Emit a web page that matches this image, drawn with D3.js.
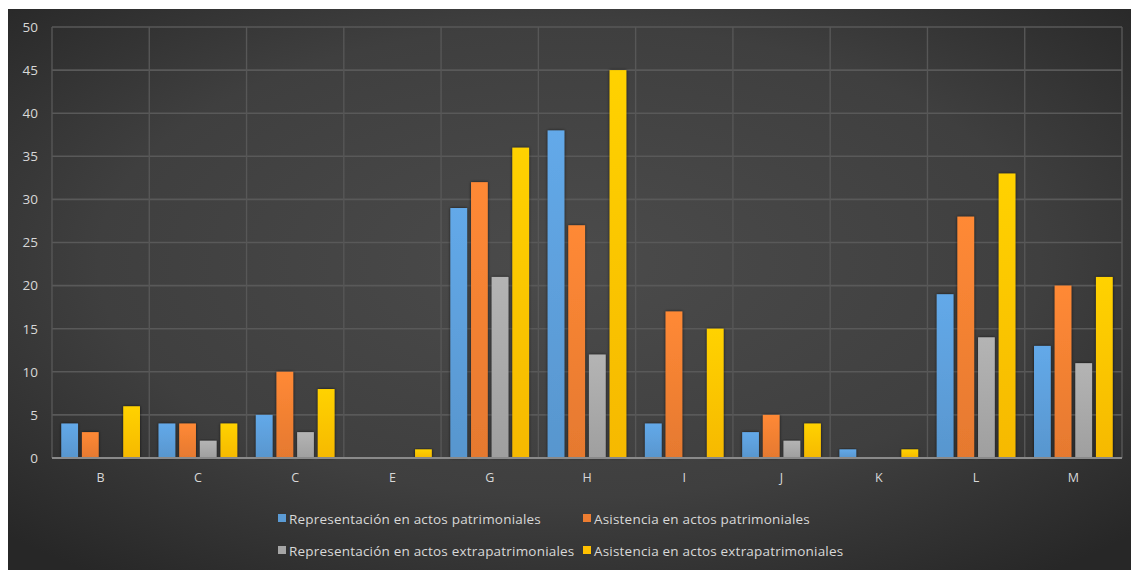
<!DOCTYPE html>
<html>
<head>
<meta charset="utf-8">
<script src="https://cdn.jsdelivr.net/npm/d3@7"></script>
<style>
  html, body { margin: 0; padding: 0; background: #ffffff; }
  svg { display: block; }
</style>
</head>
<body>
<svg id="chart" width="1131" height="570"></svg>
<script>
// Category labels along the x axis
const categories = ["B", "C", "C", "E", "G", "H", "I", "J", "K", "L", "M"];

// One array per series, in category order
const representacionPatrimoniales = [4, 4, 5, 0, 29, 38, 4, 3, 1, 19, 13];
const asistenciaPatrimoniales      = [3, 4, 10, 0, 32, 27, 17, 5, 0, 28, 20];
const representacionExtra          = [0, 2, 3, 0, 21, 12, 0, 2, 0, 14, 11];
const asistenciaExtra              = [6, 4, 8, 1, 36, 45, 15, 4, 1, 33, 21];

const seriesNames = [
  "Representación en actos patrimoniales",
  "Asistencia en actos patrimoniales",
  "Representación en actos extrapatrimoniales",
  "Asistencia en actos extrapatrimoniales"
];
const seriesColors = ["#5b9bd5", "#ed7d31", "#a5a5a5", "#ffc000"];
const yTicks = [0, 5, 10, 15, 20, 25, 30, 35, 40, 45, 50];

const seriesValues = [representacionPatrimoniales, asistenciaPatrimoniales, representacionExtra, asistenciaExtra];

const svg = d3.select("#chart");
const W = 1131, H = 570;
const margin = { left: 52, right: 9, top: 27, bottom: 112 };
const plotW = W - margin.left - margin.right;
const plotH = H - margin.top - margin.bottom;

// Backdrop: dark radial gradient filling the chart frame
const defs = svg.append("defs");
const bg = defs.append("radialGradient").attr("id", "bgGrad")
  .attr("cx", "50%").attr("cy", "45%").attr("r", "70%");
bg.append("stop").attr("offset", "0%").attr("stop-color", "#4b4b4b");
bg.append("stop").attr("offset", "60%").attr("stop-color", "#3f3f3f");
bg.append("stop").attr("offset", "100%").attr("stop-color", "#272727");
svg.append("rect").attr("x", 8).attr("y", 9).attr("width", W - 8).attr("height", H - 9)
  .attr("fill", "url(#bgGrad)");

// Vertical shading on bars: lighter toward the top
seriesColors.forEach((c, i) => {
  const g = defs.append("linearGradient").attr("id", "barGrad" + i)
    .attr("x1", 0).attr("y1", 0).attr("x2", 0).attr("y2", 1);
  g.append("stop").attr("offset", "0%").attr("stop-color", d3.color(c).brighter(0.25));
  g.append("stop").attr("offset", "100%").attr("stop-color", d3.color(c).darker(0.1));
});
const shadow = defs.append("filter").attr("id", "barShadow")
  .attr("x", "-30%").attr("y", "-10%").attr("width", "160%").attr("height", "120%");
shadow.append("feDropShadow").attr("dx", 0).attr("dy", 0).attr("stdDeviation", 1.6)
  .attr("flood-color", "#000").attr("flood-opacity", 0.7);

const g = svg.append("g").attr("transform", `translate(${margin.left},${margin.top})`);

const x0 = d3.scaleBand().domain(d3.range(categories.length)).range([0, plotW]).paddingInner(0).paddingOuter(0);
const x1 = d3.scaleBand().domain(d3.range(seriesNames.length)).range([0, x0.bandwidth()])
  .paddingInner(0.19).paddingOuter(0.45);
const y = d3.scaleLinear().domain([0, 50]).range([plotH, 0]);

// Horizontal grid lines
g.append("g").selectAll("line").data(yTicks.filter(t => t > 0)).join("line")
  .attr("x1", 0).attr("x2", plotW)
  .attr("y1", d => y(d)).attr("y2", d => y(d))
  .attr("stroke", "#595959").attr("stroke-width", 1.6);

// Vertical separators between categories
g.append("g").selectAll("line").data(d3.range(categories.length + 1)).join("line")
  .attr("x1", d => d === categories.length ? plotW : x0(d))
  .attr("x2", d => d === categories.length ? plotW : x0(d))
  .attr("y1", 0).attr("y2", plotH)
  .attr("stroke", "#575757").attr("stroke-width", 1.4);

// Bars
const groups = g.append("g").selectAll("g").data(categories).join("g")
  .attr("transform", (d, i) => `translate(${x0(i)},0)`);
groups.selectAll("rect")
  .data((d, ci) => seriesValues.map((vals, si) => ({ si, v: vals[ci] })))
  .join("rect")
  .filter(d => d.v > 0)
  .attr("x", d => x1(d.si))
  .attr("width", x1.bandwidth())
  .attr("y", d => y(d.v))
  .attr("height", d => y(0) - y(d.v))
  .attr("fill", d => `url(#barGrad${d.si})`)
  .attr("filter", "url(#barShadow)");

// Baseline
g.append("line").attr("x1", 0).attr("x2", plotW).attr("y1", y(0)).attr("y2", y(0))
  .attr("stroke", "#8a8a8a").attr("stroke-width", 2);

// Y axis labels
const yAxis = d3.axisLeft(y).tickValues(yTicks).tickSize(0).tickPadding(14);
const ya = g.append("g").call(yAxis);
ya.select(".domain").remove();
ya.selectAll("text").attr("fill", "#d8d8d8").style("font-family", "'Open Sans', sans-serif")
  .style("font-size", "13.5px");

// X axis labels
const xAxis = d3.axisBottom(x0).tickFormat(i => categories[i]).tickSize(0).tickPadding(15);
const xa = g.append("g").attr("transform", `translate(0,${plotH})`).call(xAxis);
xa.select(".domain").remove();
xa.selectAll("text").attr("fill", "#d8d8d8").style("font-family", "'Open Sans', sans-serif")
  .style("font-size", "12.5px");

// Legend: two rows of two entries
const legendPos = [
  { x: 278, y: 519 }, { x: 583, y: 519 },
  { x: 278, y: 551 }, { x: 583, y: 551 }
];
const legend = svg.append("g").selectAll("g").data(seriesNames).join("g")
  .attr("transform", (d, i) => `translate(${legendPos[i].x},${legendPos[i].y})`);
legend.append("rect").attr("x", 0).attr("y", -5).attr("width", 8).attr("height", 8)
  .attr("fill", (d, i) => seriesColors[i]);
legend.append("text").attr("x", 11).attr("y", 0).attr("dy", "0.35em")
  .attr("fill", "#d8d8d8").style("font-family", "'Open Sans', sans-serif")
  .style("font-size", "13.5px").style("letter-spacing", "0.2px").text(d => d);
</script>
</body>
</html>
